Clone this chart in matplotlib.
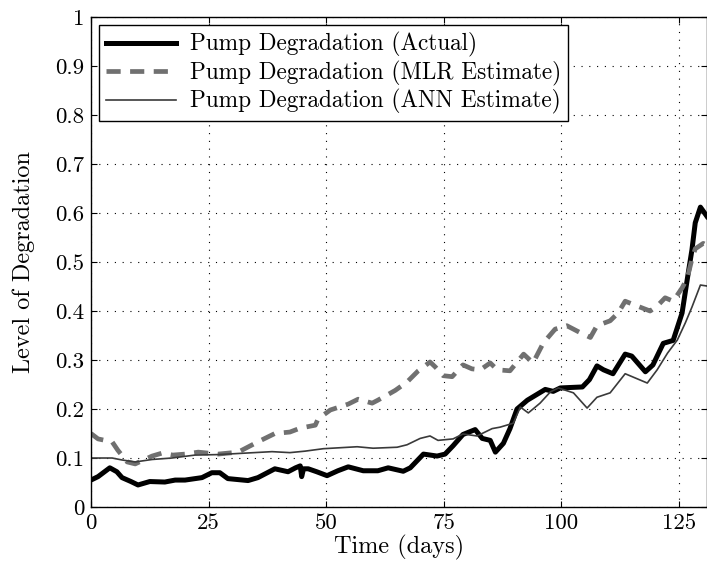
import matplotlib
matplotlib.use("Agg")
import matplotlib.pyplot as plt

# ---- data ----
actual_t = [0, 1.5, 4.0, 5.5, 6.6, 8.5, 10.0, 12.5, 15.7, 17.9, 20.0, 23.6, 25.7, 27.4, 29.1,
            33.4, 35.5, 39.1, 41.9, 43.5, 44.5, 44.8, 45.2, 46.2, 48.0, 50.2, 52.5, 54.7,
            57.9, 61.0, 63.2, 66.4, 67.9, 70.7, 73.6, 75.3, 77.0, 79.1, 81.7, 83.2, 84.9,
            86.0, 87.7, 89.1, 90.6, 92.8, 96.6, 98.3, 99.8, 104.5, 106.0, 107.6, 109.0,
            111.0, 113.6, 115.0, 117.9, 119.5, 121.7, 123.8, 125.7, 127.0, 127.8, 128.5,
            129.6, 131.0]
actual_y = [0.055, 0.062, 0.08, 0.072, 0.06, 0.052, 0.045, 0.052, 0.051, 0.055, 0.055, 0.06,
            0.07, 0.07, 0.058, 0.054, 0.06, 0.078, 0.072, 0.08, 0.084, 0.062, 0.078, 0.078,
            0.072, 0.064, 0.074, 0.082, 0.074, 0.074, 0.08, 0.073, 0.08, 0.108, 0.104, 0.108,
            0.125, 0.148, 0.158, 0.14, 0.136, 0.112, 0.13, 0.16, 0.2, 0.218, 0.24, 0.236,
            0.243, 0.245, 0.26, 0.288, 0.28, 0.272, 0.312, 0.308, 0.276, 0.29, 0.334, 0.34,
            0.396, 0.477, 0.525, 0.58, 0.612, 0.593]

mlr_t = [0, 1.5, 4.5, 5.7, 7.7, 9.4, 13.0, 15.1, 17.4, 20.0, 22.8, 27.0, 31.3, 35.5, 39.1,
         42.3, 44.5, 47.7, 48.3, 50.9, 54.7, 56.8, 59.8, 61.0, 63.6, 64.7, 67.2, 69.6, 72.1,
         73.2, 74.9, 76.8, 79.1, 81.0, 82.8, 84.9, 86.4, 89.1, 92.0, 94.0, 96.2, 98.7,
         101.2, 104.0, 106.2, 107.6, 110.4, 112.1, 113.6, 116.2, 118.9, 120.4, 122.1, 123.8,
         125.7, 126.8, 127.8, 128.5, 130.2, 131.0]
mlr_y = [0.15, 0.139, 0.133, 0.116, 0.092, 0.088, 0.104, 0.11, 0.106, 0.108, 0.112, 0.108,
         0.112, 0.133, 0.15, 0.153, 0.161, 0.167, 0.18, 0.198, 0.21, 0.22, 0.212, 0.218,
         0.232, 0.238, 0.255, 0.278, 0.296, 0.286, 0.268, 0.266, 0.29, 0.282, 0.28, 0.294,
         0.28, 0.278, 0.312, 0.294, 0.335, 0.363, 0.37, 0.356, 0.346, 0.37, 0.38, 0.396,
         0.42, 0.41, 0.4, 0.41, 0.427, 0.42, 0.447, 0.467, 0.506, 0.527, 0.538, 0.534]

ann_t = [0, 4.5, 6.6, 9.4, 13.0, 17.2, 22.1, 27.0, 32.8, 38.5, 42.3, 45.5, 49.4, 56.6, 60.0,
         65.1, 67.2, 70.0, 72.1, 73.8, 77.0, 79.1, 82.1, 85.3, 87.0, 89.8, 91.3, 93.0, 95.5,
         97.7, 99.4, 102.6, 105.5, 107.6, 110.4, 113.6, 118.3, 120.4, 122.6, 124.7, 126.4,
         127.8, 129.6, 131.0]
ann_y = [0.1, 0.1, 0.096, 0.092, 0.097, 0.1, 0.106, 0.107, 0.11, 0.113, 0.111, 0.114, 0.119,
         0.123, 0.12, 0.122, 0.127, 0.14, 0.145, 0.136, 0.139, 0.149, 0.145, 0.16, 0.163,
         0.171, 0.204, 0.192, 0.212, 0.235, 0.243, 0.233, 0.202, 0.224, 0.233, 0.272, 0.253,
         0.28, 0.314, 0.341, 0.376, 0.408, 0.453, 0.451]

xticks = [0, 25, 50, 75, 100, 125]
yticks = [0, 0.1, 0.2, 0.3, 0.4, 0.5, 0.6, 0.7, 0.8, 0.9, 1]
ytick_labels = ["0", "0.1", "0.2", "0.3", "0.4", "0.5", "0.6", "0.7", "0.8", "0.9", "1"]

plt.rcParams["font.family"] = ["cmr10", "DejaVu Serif"]
plt.rcParams["mathtext.fontset"] = "cm"
plt.rcParams["axes.formatter.use_mathtext"] = True

fig = plt.figure(figsize=(7.07, 5.72), dpi=100)
ax = fig.add_axes([0.1287, 0.1136, 0.8713, 0.8567])

ax.plot(actual_t, actual_y, color="black", lw=3.6, label="Pump Degradation (Actual)",
        solid_joinstyle="round")
ax.plot(mlr_t, mlr_y, color="#707070", lw=3.4, ls=(0, (3, 2)),
        label="Pump Degradation (MLR Estimate)")
ax.plot(ann_t, ann_y, color="#3a3a3a", lw=1.2, label="Pump Degradation (ANN Estimate)")

ax.set_xlim(0, 131)
ax.set_ylim(0, 1)
ax.set_xticks(xticks)
ax.set_xticklabels([str(t) for t in xticks])
ax.set_yticks(yticks)
ax.set_yticklabels(ytick_labels)
ax.tick_params(direction="in", top=True, right=True, labelsize=16.5, length=4, pad=5)
ax.grid(True, ls=(0, (1, 6)), color="black", lw=0.8)
for s in ax.spines.values():
    s.set_linewidth(1.0)

ax.set_xlabel("Time (days)", fontsize=17.5, labelpad=1)
ax.set_ylabel("Level of Degradation", fontsize=17.5, labelpad=14)

leg = ax.legend(loc="upper left", fontsize=16.8, fancybox=False, framealpha=1,
                edgecolor="black", handlelength=3.0, handletextpad=0.6, borderpad=0.3,
                labelspacing=0.15, borderaxespad=0.35)
leg.get_frame().set_linewidth(1.0)

fig.savefig("out.png", dpi=100)
